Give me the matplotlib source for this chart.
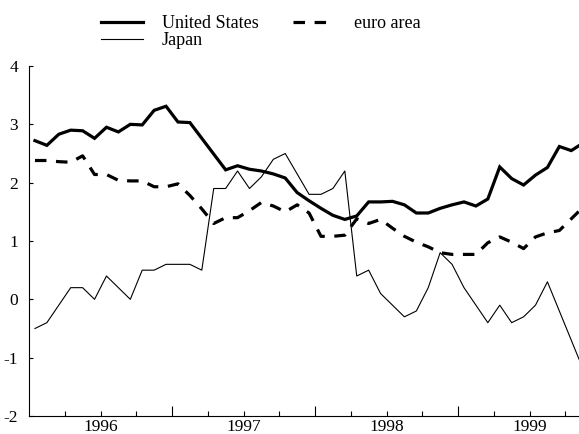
import matplotlib
matplotlib.use("Agg")
import matplotlib.pyplot as plt
from matplotlib.ticker import FixedLocator, FuncFormatter
import numpy as np

# monthly series, January 1996 onwards (per cent)
united_states = [
    2.72, 2.64, 2.83, 2.90, 2.89, 2.76, 2.95, 2.87, 3.00, 2.99,
    3.24, 3.31, 3.04, 3.03, 2.76, 2.49, 2.22, 2.29, 2.23, 2.20,
    2.15, 2.08, 1.83, 1.69, 1.56, 1.44, 1.37, 1.43, 1.67, 1.67,
    1.68, 1.62, 1.48, 1.48, 1.56, 1.62, 1.67, 1.60, 1.72, 2.27,
    2.07, 1.96, 2.13, 2.26, 2.62, 2.55, 2.68,
]
euro_area = [
    2.38, 2.38, 2.36, 2.35, 2.46, 2.14, 2.14, 2.04, 2.03, 2.03,
    1.93, 1.93, 1.98, 1.78, 1.55, 1.30, 1.40, 1.40, 1.52, 1.66,
    1.60, 1.50, 1.62, 1.48, 1.08, 1.08, 1.10, 1.38, 1.30, 1.37,
    1.22, 1.08, 0.98, 0.90, 0.80, 0.77, 0.77, 0.77, 0.97, 1.07,
    0.98, 0.87, 1.07, 1.14, 1.18, 1.38, 1.58,
]
japan = [
    -0.5, -0.4, -0.1, 0.2, 0.2, 0.0, 0.4, 0.2, 0.0, 0.5,
    0.5, 0.6, 0.6, 0.6, 0.5, 1.9, 1.9, 2.2, 1.9, 2.1,
    2.4, 2.5, 2.15, 1.8, 1.8, 1.9, 2.2, 0.4, 0.5, 0.1,
    -0.1, -0.3, -0.2, 0.2, 0.8, 0.6, 0.2, -0.1, -0.4, -0.1,
    -0.4, -0.3, -0.1, 0.3, -0.2, -0.7, -1.2,
]
years = ["1996", "1997", "1998", "1999"]

plt.rcParams["font.family"] = ["Liberation Serif", "DejaVu Serif"]

# month centres, counted from the start of 1996
months = np.arange(len(united_states)) + 0.5

fig = plt.figure(figsize=(5.79, 4.34), dpi=100)
ax = fig.add_axes([29 / 579, 18 / 434, 550 / 579, 350 / 434])

l_us, = ax.plot(months, united_states, color="black", lw=2.3,
                solid_joinstyle="miter")
l_ea, = ax.plot(months, euro_area, color="black", lw=2.3,
                dashes=(3.6, 3.0))
l_jp, = ax.plot(months, japan, color="black", lw=0.8)

ax.set_xlim(0, 46.15)
ax.set_ylim(-2, 4)

for side in ("top", "right"):
    ax.spines[side].set_visible(False)
for side in ("left", "bottom"):
    ax.spines[side].set_linewidth(0.8)

# y axis
ax.set_yticks(range(-2, 5))
ax.yaxis.set_major_formatter(FuncFormatter(lambda v, p: f"{int(v)}"))
ax.tick_params(axis="y", direction="in", length=3, width=0.8,
               labelsize=12.5, pad=8)

# x axis: long ticks at year boundaries, short ones at quarters,
# year names centred under mid-year
ax.set_xticks([12, 24, 36])
ax.set_xticklabels([])
quarters = [m for m in range(3, 46, 3) if m % 12 != 0]
ax.xaxis.set_minor_locator(FixedLocator(quarters))
ax.set_xticklabels(
    [years[m // 12] if m % 12 == 6 else "" for m in quarters], minor=True)
ax.tick_params(axis="x", which="major", direction="in", length=7, width=0.8)
ax.tick_params(axis="x", which="minor", direction="in", length=3.5,
               width=0.8, labelsize=12.5, pad=2)

fig.legend([l_us, l_jp, l_ea], ["United States", "Japan", "euro area"],
           ncol=2, frameon=False, loc="upper left",
           bbox_to_anchor=(101 / 579, 1 - 15 / 434), fontsize=13,
           handlelength=2.3, handletextpad=1.08, columnspacing=1.9,
           labelspacing=0.0, borderpad=0, borderaxespad=0)

fig.savefig("out.png", dpi=100)
